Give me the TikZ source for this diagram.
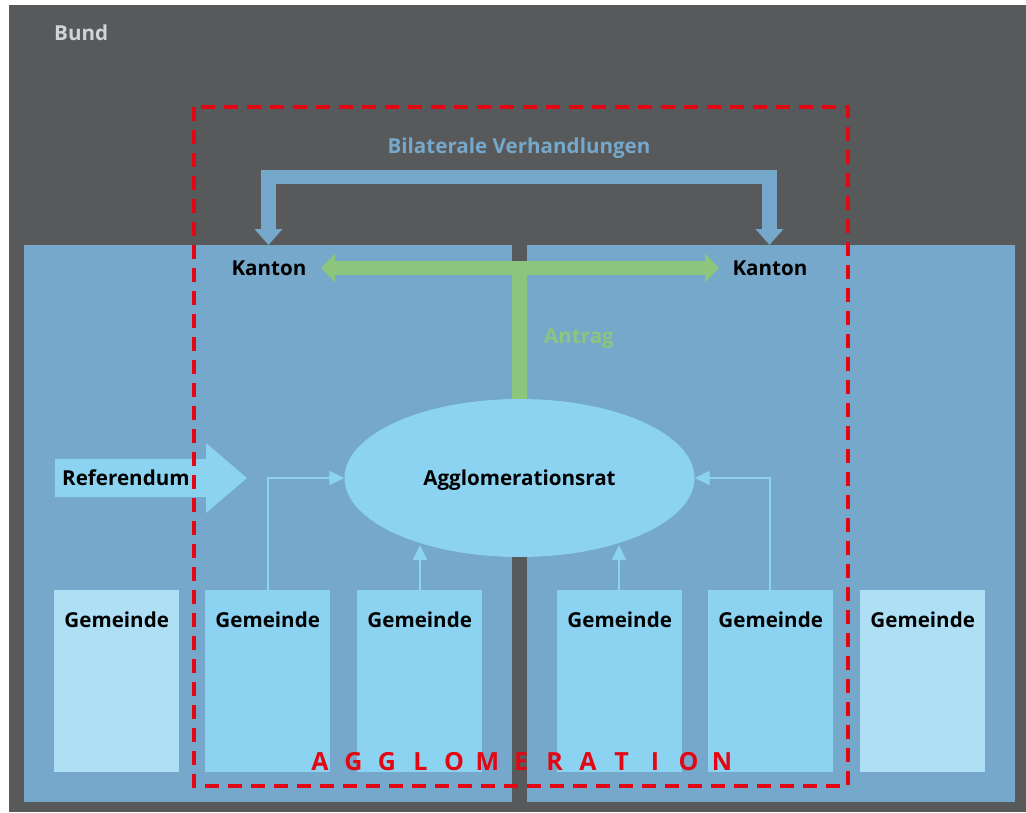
\documentclass[tikz,border=0pt]{standalone}
\usepackage{fontspec}
\setmainfont{Open Sans}
\usetikzlibrary{arrows.meta,shapes.geometric}

\definecolor{bundgray}{HTML}{58595B}
\definecolor{kantonblue}{HTML}{75A8CB}
\definecolor{gemblue}{HTML}{8BD3F1}
\definecolor{gempale}{HTML}{AEDFF4}
\definecolor{antraggreen}{HTML}{8DC57C}
\definecolor{aggred}{HTML}{E30613}
\definecolor{bundtext}{HTML}{D2D3D4}

\newcommand\lblfont{\fontsize{20.6}{22}\selectfont\bfseries}

\tikzset{
  lbl/.style={font=\lblfont, text=black, inner sep=0pt, text depth=0pt},
  gembox/.style={fill=gemblue, draw=none, minimum width=125pt, minimum height=182pt,
    anchor=north west, inner sep=0pt},
  gemtext/.style={lbl, anchor=center},
  panel/.style={fill=kantonblue, draw=none},
  bilarrow/.style={draw=kantonblue, line width=14.5pt, line join=miter,
    -{Triangle[length=16pt,width=27pt]}},
  grnarrow/.style={draw=antraggreen, line width=14pt,
    {Triangle[length=14pt,width=28pt]}-{Triangle[length=14pt,width=28pt]}},
  grnstem/.style={draw=antraggreen, line width=15pt},
  thin/.style={draw=gemblue, line width=1.6pt, -{Triangle[length=15pt,width=14pt]}},
  aggdash/.style={draw=aggred, line width=3.5pt, dash pattern=on 14pt off 9pt},
}

\begin{document}
\begin{tikzpicture}[x=1pt,y=-1pt]
  \useasboundingbox (0,0) rectangle (1026,812);
  \fill[white] (0,0) rectangle (1026,812);
  % federal level
  \fill[bundgray] (9,5) rectangle (1026,812);
  \node[lbl, anchor=west, text=bundtext] (bund) at (54,33) {Bund};

  % the two cantons
  \fill[panel] (24,245) rectangle (512,802);
  \fill[panel] (527,245) rectangle (1015,802);

  % municipalities
  \node[gembox, fill=gempale] (g1) at (54,590) {};
  \node[gembox] (g2) at (205,590) {};
  \node[gembox] (g3) at (357,590) {};
  \node[gembox] (g4) at (557,590) {};
  \node[gembox] (g5) at (708,590) {};
  \node[gembox, fill=gempale] (g6) at (860,590) {};
  \foreach \g in {g1,g2,g3,g4,g5,g6}
    \node[gemtext] at ([yshift=-30pt]\g.north) {Gemeinde};

  % agglomeration council
  \node[ellipse, fill=gemblue, minimum width=350pt, minimum height=158pt, lbl]
    (rat) at (519.5,478) {Agglomerationsrat};

  % delegation arrows into the council
  \draw[thin] (g2.north -| 268,0) |- (rat.west);
  \draw[thin] (g5.north -| 770,0) |- (rat.east);
  \draw[thin] (g3.north -| 420,0) -- (420,545);
  \draw[thin] (g4.north -| 619,0) -- (619,545);

  % referendum
  \coordinate (reftip) at (247,478);
  \fill[gemblue] (55,459) -- (206,459) -- (206,443) -- (reftip) -- (206,513)
    -- (206,497) -- (55,497) -- cycle;
  \node[lbl, anchor=west] (reftext) at (62,478) {Referendum};

  % cantons and their negotiations
  \node[lbl] (k1) at (269,268) {Kanton};
  \node[lbl] (k2) at (770,268) {Kanton};
  \coordinate (b1) at (268.5,245);
  \coordinate (b2) at (769.5,245);
  \draw[bilarrow] (b2) ++(0,-11) -- ++(0,-57) -| (b1);
  \draw[bilarrow] (b1) ++(0,-68) -| (b2);
  \node[lbl, text=kantonblue] (bil) at (519,146) {Bilaterale Verhandlungen};

  % proposal to the cantons
  \coordinate (gt) at (519.5,261);
  \coordinate (gl) at (321,268);
  \coordinate (gr) at (719,268);
  \draw[grnstem] (gt) -- (rat.north);
  \draw[grnarrow] (gl) -- (gr);
  \node[lbl, text=antraggreen] (antrag) at (579,336) {Antrag};

  % perimeter of the agglomeration
  \draw[aggdash] (194,107) rectangle (848,786);
  \foreach \c [count=\i] in {A,G,G,L,O,M,E,R,A,T,I,O,N} {
    \node[font=\fontsize{25}{27}\selectfont\bfseries, text=aggred, inner sep=0pt]
      (agg\i) at ({320+(\i-1)*33.5},762) {\c};
  }
\end{tikzpicture}
\end{document}
